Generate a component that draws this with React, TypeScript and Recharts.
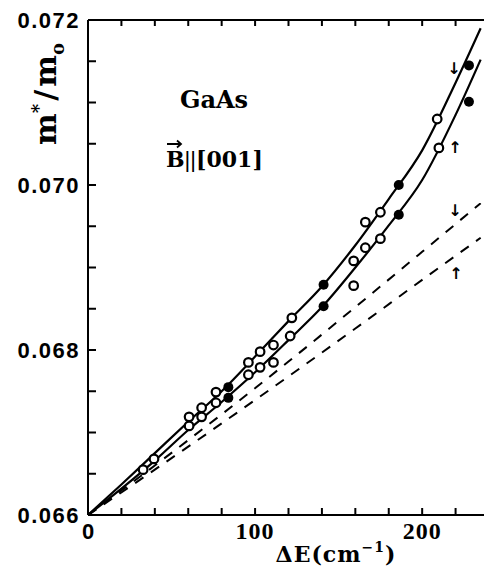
import { ComposedChart, Line, Scatter, XAxis, YAxis } from 'recharts'

// fitted effective mass vs. spin splitting, both spin states
const fitE = [0, 20, 40, 60, 80, 100, 120, 140, 160, 180, 200, 220, 235]
const fitDown = [0.066, 0.06637, 0.06675, 0.06713, 0.0675, 0.06792, 0.06835, 0.06877, 0.06927, 0.06983, 0.07042, 0.07124, 0.0719]
const fitUp = [0.066, 0.06632, 0.06666, 0.06703, 0.06737, 0.06773, 0.06812, 0.06852, 0.069, 0.06951, 0.07006, 0.07085, 0.07152]

// dashed model curves
const modelE = [0, 40, 80, 120, 160, 200, 235]
const modelDown = [0.066, 0.0666, 0.06722, 0.06786, 0.06852, 0.06919, 0.06978]
const modelUp = [0.066, 0.06655, 0.06711, 0.06768, 0.06826, 0.06885, 0.06936]

// measured points [ΔE, m*/m0]
const openDown = [[33, 0.06655], [39.5, 0.06668], [60.5, 0.06719], [68, 0.0673], [76.6, 0.06749], [96, 0.06785], [103, 0.06798], [111, 0.06806], [122, 0.06839], [166, 0.06955], [175, 0.06967], [209, 0.0708]]
const filledDown = [[84, 0.06755], [141, 0.06879], [186, 0.07], [228, 0.07145]]
const openUp = [[60.5, 0.06708], [68, 0.06719], [76.6, 0.06736], [96, 0.0677], [103, 0.06779], [111, 0.06785], [121, 0.06817], [159, 0.06908], [159, 0.06878], [166, 0.06924], [175, 0.06935], [210, 0.07045]]
const filledUp = [[84, 0.06742], [141, 0.06853], [186, 0.06964], [228, 0.07101]]

const xTicks = [0, 20, 40, 60, 80, 100, 120, 140, 160, 180, 200, 220, 240]
const xLabels = [0, 100, 200]
const yTicks = [0.066, 0.0665, 0.067, 0.0675, 0.068, 0.0685, 0.069, 0.0695, 0.07, 0.0705, 0.071, 0.0715, 0.072]
const yLabels = ['0.066', '0.068', '0.070', '0.072']

const Y_MAX = 0.072

const toRows = (xs: number[], ys: number[]) => xs.map((e, i) => ({ e, m: ys[i] }))
const toPts = (pts: number[][]) => pts.map(([e, m]) => ({ e, m }))

const SERIF = '"DejaVu Serif", serif'
const SANS = '"Liberation Sans", Arial, sans-serif'
const ARROW_FONT = '"DejaVu Sans", sans-serif'

// ticks point into the plot; labels sit outside
const BottomTick = (props: any) => {
  const { x, y, payload } = props
  const v = payload.value
  return (
    <g>
      <line x1={x} x2={x} y1={y} y2={y - 7} stroke="#000" strokeWidth={2} />
      {xLabels.includes(v) && (
        <text
          x={x}
          y={y + 24}
          textAnchor="middle"
          fontFamily={v === 0 ? SANS : '"Liberation Serif", serif'}
          fontWeight="bold"
          fontSize={v === 0 ? 22 : 24}
          letterSpacing={v === 0 ? 0 : 1}
          fill="#000"
        >
          {v}
        </text>
      )}
    </g>
  )
}

const LeftTick = (props: any) => {
  const { x, y, payload } = props
  const s = payload.value.toFixed(3)
  const major = yLabels.includes(s) && Math.abs(payload.value * 1000 - Math.round(payload.value * 1000)) < 1e-6
  return (
    <g>
      <line x1={x} x2={x + 8} y1={y} y2={y} stroke="#000" strokeWidth={2} />
      {major && (
        <text x={x - 8} y={y + 8} textAnchor="end" fontFamily={SANS} fontWeight="bold" fontSize={22} letterSpacing={1.5} fill="#000">
          {s}
        </text>
      )}
    </g>
  )
}

// short stub hanging down from the top frame
const TopStub = (p: any) => <line x1={p.cx} x2={p.cx} y1={p.cy} y2={p.cy + 6} stroke="#000" strokeWidth={2} />

const OpenDot = (p: any) => <circle cx={p.cx} cy={p.cy} r={4.3} fill="#fff" stroke="#000" strokeWidth={2.2} />
const FilledDot = (p: any) => <circle cx={p.cx} cy={p.cy} r={5} fill="#000" />

export default function App() {
  return (
    <div style={{ position: 'absolute', left: 0, top: 0, width: 484, height: 570, overflow: 'hidden', background: '#fff' }}>
      <ComposedChart width={492} height={570} margin={{ top: 10, right: 3, bottom: 15, left: 28 }}>
        <XAxis
          xAxisId="b"
          dataKey="e"
          type="number"
          domain={[0, 240]}
          ticks={xTicks}
          interval={0}
          orientation="bottom"
          height={40}
          tickSize={0}
          tickMargin={0}
          tickLine={false}
          axisLine={{ stroke: '#000', strokeWidth: 2 }}
          tick={<BottomTick />}
        />
        <XAxis
          xAxisId="t"
          dataKey="e"
          type="number"
          domain={[0, 240]}
          orientation="top"
          height={10}
          tick={false}
          tickLine={false}
          axisLine={{ stroke: '#000', strokeWidth: 2 }}
        />
        <YAxis
          dataKey="m"
          type="number"
          domain={[0.066, Y_MAX]}
          ticks={yTicks}
          interval={0}
          width={60}
          tickSize={0}
          tickMargin={0}
          tickLine={false}
          allowDataOverflow
          axisLine={{ stroke: '#000', strokeWidth: 2 }}
          tick={<LeftTick />}
        />
        <Scatter xAxisId="t" data={xTicks.map((e) => ({ e, m: Y_MAX }))} dataKey="m" shape={<TopStub />} isAnimationActive={false} />
        <Line xAxisId="b" data={toRows(fitE, fitDown)} dataKey="m" type="monotone" stroke="#000" strokeWidth={2.2} dot={false} isAnimationActive={false} />
        <Line xAxisId="b" data={toRows(fitE, fitUp)} dataKey="m" type="monotone" stroke="#000" strokeWidth={2.2} dot={false} isAnimationActive={false} />
        <Line xAxisId="t" data={toRows(modelE, modelDown)} dataKey="m" type="monotone" stroke="#000" strokeWidth={2} strokeDasharray="10 9" dot={false} isAnimationActive={false} />
        <Line xAxisId="t" data={toRows(modelE, modelUp)} dataKey="m" type="monotone" stroke="#000" strokeWidth={2} strokeDasharray="10 9" dot={false} isAnimationActive={false} />
        <Scatter xAxisId="b" data={toPts(openDown)} dataKey="m" shape={<OpenDot />} isAnimationActive={false} />
        <Scatter xAxisId="b" data={toPts(openUp)} dataKey="m" shape={<OpenDot />} isAnimationActive={false} />
        <Scatter xAxisId="b" data={toPts(filledDown)} dataKey="m" shape={<FilledDot />} isAnimationActive={false} />
        <Scatter xAxisId="b" data={toPts(filledUp)} dataKey="m" shape={<FilledDot />} isAnimationActive={false} />
      </ComposedChart>
      <svg width={484} height={570} style={{ position: 'absolute', left: 0, top: 0, pointerEvents: 'none' }}>
        <text transform="translate(56,145) rotate(-90)" fontFamily={SERIF} fontSize={30} fontWeight="bold" fill="#000">
          m<tspan dy={-11} fontSize={18}>*</tspan>
          <tspan dy={11} dx={3}>/</tspan>
          <tspan dx={3}>m</tspan>
          <tspan dy={8} fontSize={18}>o</tspan>
        </text>
        <text x={214} y={108} textAnchor="middle" fontFamily={SERIF} fontSize={24} fontWeight="bold" fill="#000">GaAs</text>
        <text x={166} y={167} fontFamily={SERIF} fontSize={22} fill="#000" fontWeight="bold">
          B<tspan fontFamily={SANS} fontWeight="normal">||</tspan>[001]
        </text>
        <path d="M167 144 H181 M177 140.5 L181 144 L177 147.5" stroke="#000" strokeWidth={1.8} fill="none" />
        <text x={336} y={562} textAnchor="middle" fontFamily={SERIF} fontSize={22} fontWeight="bold" letterSpacing={1} fill="#000">
          ΔE(cm<tspan dy={-10} fontSize={14}>−1</tspan><tspan dy={10}>)</tspan>
        </text>
        <text x={454} y={74} textAnchor="middle" fontFamily={ARROW_FONT} fontWeight="bold" fontSize={16} fill="#000">↓</text>
        <text x={455} y={153} textAnchor="middle" fontFamily={ARROW_FONT} fontWeight="bold" fontSize={16} fill="#000">↑</text>
        <text x={455} y={216} textAnchor="middle" fontFamily={ARROW_FONT} fontWeight="bold" fontSize={16} fill="#000">↓</text>
        <text x={456} y={279} textAnchor="middle" fontFamily={ARROW_FONT} fontWeight="bold" fontSize={16} fill="#000">↑</text>
      </svg>
    </div>
  )
}
